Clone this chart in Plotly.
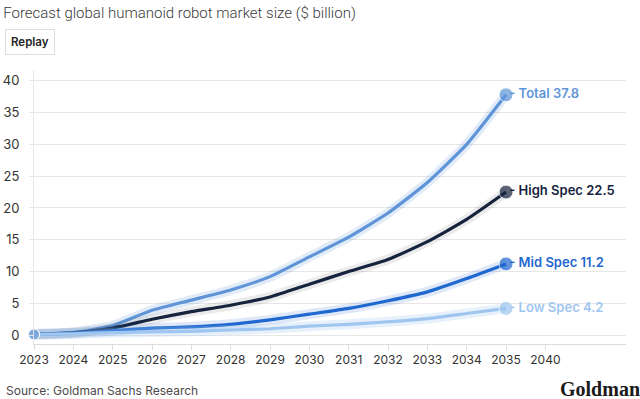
import plotly.graph_objects as go

years = ["2023", "2024", "2025", "2026", "2027", "2028", "2029", "2030", "2031", "2032", "2033", "2034", "2035"]
axis_categories = years + ["2040"]

total = [0.2, 0.4, 1.5, 3.9, 5.5, 7.1, 9.2, 12.3, 15.4, 19.2, 24.0, 30.0, 37.8]
high_spec = [0.1, 0.4, 1.1, 2.5, 3.7, 4.7, 6.0, 8.0, 10.0, 11.9, 14.7, 18.2, 22.5]
mid_spec = [0.1, 0.3, 0.7, 1.1, 1.3, 1.7, 2.4, 3.3, 4.2, 5.4, 6.8, 8.9, 11.2]
low_spec = [0.1, 0.2, 0.4, 0.5, 0.6, 0.8, 1.0, 1.4, 1.7, 2.1, 2.6, 3.4, 4.2]

series = [
    ("Total", total, "#5f95d8", "rgba(95,149,216,0.18)"),
    ("High Spec", high_spec, "#16233d", "rgba(120,120,130,0.15)"),
    ("Mid Spec", mid_spec, "#1f68cf", "rgba(31,104,207,0.15)"),
    ("Low Spec", low_spec, "#9fc6f0", "rgba(159,198,240,0.25)"),
]

fig = go.Figure()
for name, vals, color, halo in series:
    fig.add_trace(go.Scatter(x=years, y=vals, mode="lines",
                             line=dict(color=halo, width=10, shape="spline", smoothing=0.5),
                             hoverinfo="skip", showlegend=False, cliponaxis=False))
    fig.add_trace(go.Scatter(x=years, y=vals, mode="lines", name=name,
                             line=dict(color=color, width=3.2, shape="spline", smoothing=0.5),
                             showlegend=False, cliponaxis=False))
NB = "\u00a0"
for name, vals, color, halo in series:
    fig.add_trace(go.Scatter(x=[years[0], years[-1]], y=[vals[0], vals[-1]], mode="markers",
                             marker=dict(color=color, size=[11, 14]),
                             hoverinfo="skip", showlegend=False, cliponaxis=False))
    fig.add_trace(go.Scatter(x=[years[-1]], y=[vals[-1]], mode="text",
                             text=[f"{NB}-{NB}{name} {vals[-1]}"],
                             textposition="middle right",
                             textfont=dict(family="Inter", size=13, color=color, weight=600),
                             hoverinfo="skip", showlegend=False, cliponaxis=False))

fig.update_layout(
    width=640, height=399,
    margin=dict(l=34, r=14, t=70, b=55, autoexpand=False),
    paper_bgcolor="white", plot_bgcolor="white",
    title=dict(text="Forecast global humanoid robot market size ($ billion)",
               xref="container", yref="container", x=0.005, y=0.968,
               xanchor="left", yanchor="middle",
               font=dict(family="Roboto", size=15, color="#3a3a3a", weight=300)),
    xaxis=dict(type="category", categoryorder="array", categoryarray=axis_categories,
               tickvals=axis_categories, ticktext=axis_categories, automargin=False,
               range=[0, 15.05], showgrid=False, showline=True, linecolor="#dcdcdc",
               ticks="outside", ticklen=5, tickcolor="#dcdcdc",
               tickfont=dict(family="Inter", size=12, color="#333"), zeroline=False),
    yaxis=dict(range=[-1.4, 41.7], tickvals=[0, 5, 10, 15, 20, 25, 30, 35, 40], automargin=False,
               showgrid=True, gridcolor="#e6e6e6", gridwidth=1,
               showline=True, linecolor="#e6e6e6", zeroline=False,
               ticks="outside", ticklen=4, tickcolor="#e6e6e6", ticklabelstandoff=7,
               tickfont=dict(family="Inter", size=13, color="#333")),
)

fig.add_annotation(text="Replay", xref="paper", yref="paper", x=(5 - 34) / 592, y=(344 - 42) / 274,
                   xanchor="left", yanchor="middle", showarrow=False,
                   font=dict(family="Inter", size=11.5, color="#222", weight=600),
                   bordercolor="#dddddd", borderwidth=1, borderpad=5, bgcolor="white")
fig.add_annotation(text="Source: Goldman Sachs Research", xref="paper", yref="paper",
                   x=(4 - 34) / 592, y=(344 - 390) / 274, xanchor="left", yanchor="middle",
                   showarrow=False, font=dict(family="Inter", size=12, color="#4a4a4a"))
fig.add_annotation(text="<b>Goldman</b><br><b>Sachs</b>", xref="paper", yref="paper",
                   x=(642 - 34) / 592, y=(344 - 376) / 274, xanchor="right", yanchor="top",
                   align="left", showarrow=False,
                   font=dict(family="Liberation Serif", size=20, color="#1a1a1a"))

fig.write_html("out.html", config={"displayModeBar": False},
               post_script="document.body.style.margin='0';")
